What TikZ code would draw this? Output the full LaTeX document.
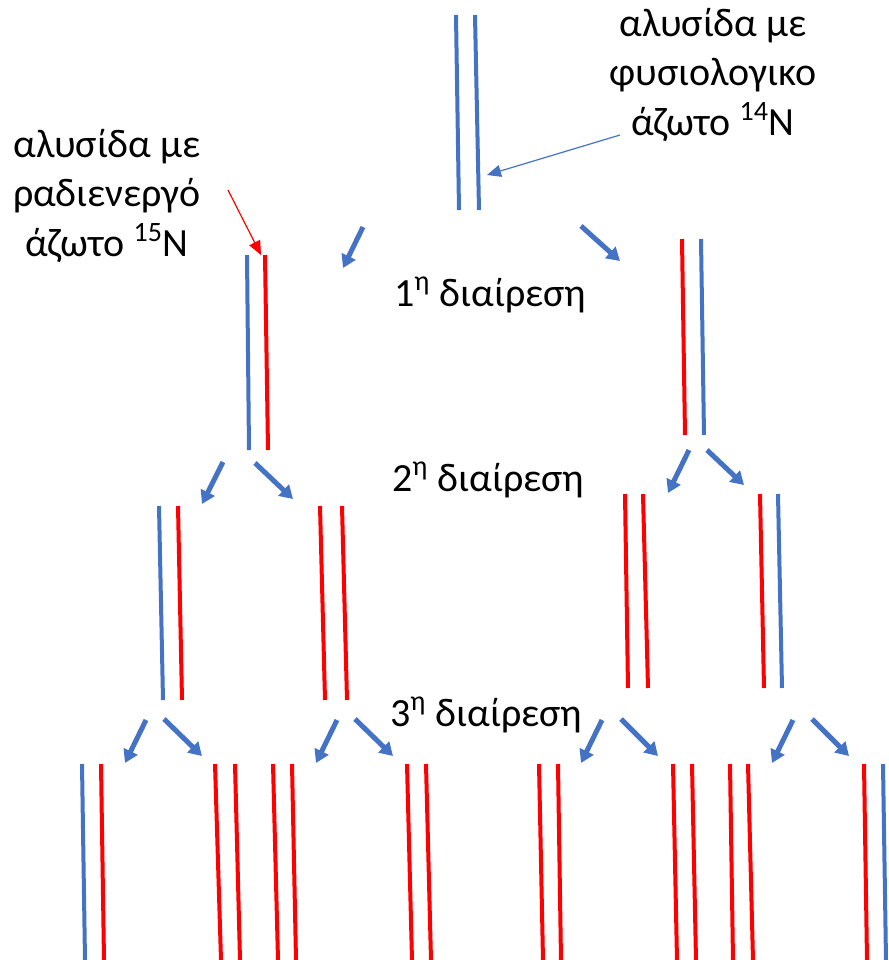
\documentclass[tikz,border=0pt]{standalone}
\usepackage{fontspec}
\setmainfont{Carlito}
\usetikzlibrary{arrows.meta}

\definecolor{oldN}{HTML}{4472C4}
\definecolor{newN}{HTML}{FF0000}

\begin{document}
\begin{tikzpicture}[x=0.5pt,y=-0.5pt,
  old/.style={line width=2pt,oldN},
  new/.style={line width=2pt,newN},
  split/.style={-{Triangle[length=6.5pt,width=7.5pt]},line width=2.5pt,oldN},
  pointer/.style={-{Triangle[length=7pt,width=6pt]},line width=0.6pt},
  txt/.style={align=center,inner sep=0pt,font=\fontsize{20}{24.75}\selectfont}]

\useasboundingbox (0,0) rectangle (889,960);

% parent molecule
\draw[old] (456,15) -- (459,210);
\draw[old] (475,15) -- (479,210);

% 1st division
\draw[old] (247,255) -- (249,450);
\draw[new] (265,255) -- (268,450);
\draw[new] (682,239) -- (685,435);
\draw[old] (701,239) -- (704,435);

% 2nd division
\draw[old] (159,506) -- (163,700);
\draw[new] (178,506) -- (182,700);
\draw[new] (320,506) -- (325,700);
\draw[new] (342,506) -- (347,700);
\draw[new] (625,494) -- (628,688);
\draw[new] (643,494) -- (648,688);
\draw[new] (760,494) -- (764,688);
\draw[old] (778,494) -- (782,688);

% 3rd division
\draw[old] (82,764) -- (85,960);
\draw[new] (101,764) -- (104,960);
\draw[new] (215,764) -- (221,960);
\draw[new] (235,764) -- (240,960);
\draw[new] (273,764) -- (278,960);
\draw[new] (292,764) -- (296,960);
\draw[new] (407,764) -- (412,960);
\draw[new] (426,764) -- (431,960);
\draw[new] (539,764) -- (543,960);
\draw[new] (558,764) -- (561,960);
\draw[new] (673,764) -- (677,960);
\draw[new] (692,764) -- (696,960);
\draw[new] (730,764) -- (733,960);
\draw[new] (748,764) -- (753,960);
\draw[new] (864,764) -- (867,960);
\draw[old] (883,764) -- (886,960);

% labels
\node[txt] (normal) at (713,75) {αλυσίδα με\\φυσιολογικο\\άζωτο \textsuperscript{14}N};
\node[txt] (heavy) at (107,196) {αλυσίδα με\\ραδιενεργό\\άζωτο \textsuperscript{15}N};
\node[txt,anchor=base] (div1) at (490,306) {1\textsuperscript{η} διαίρεση};
\node[txt,anchor=base] (div2) at (488,491) {2\textsuperscript{η} διαίρεση};
\node[txt,anchor=base] (div3) at (486,726) {3\textsuperscript{η} διαίρεση};

\coordinate (normalfrom) at (620,135);
\coordinate (normalto) at (487,175);
\coordinate (heavyfrom) at (228,190);
\coordinate (heavyto) at (261,255);
\draw[pointer,oldN] (normalfrom) -- (normalto);
\draw[pointer,newN] (heavyfrom) -- (heavyto);

% division arrows
\coordinate (a1) at (363,227);  \coordinate (a1tip) at (343,268);
\coordinate (b1) at (581,226);  \coordinate (b1tip) at (620,261);
\coordinate (a2) at (223,462);  \coordinate (a2tip) at (202,504);
\coordinate (b2) at (255,463);  \coordinate (b2tip) at (293,499);
\coordinate (c2) at (689,450);  \coordinate (c2tip) at (668,493);
\coordinate (d2) at (707,450);  \coordinate (d2tip) at (744,485);
\coordinate (a3) at (146,720);  \coordinate (a3tip) at (125,763);
\coordinate (b3) at (164,719);  \coordinate (b3tip) at (202,756);
\coordinate (c3) at (337,720);  \coordinate (c3tip) at (316,763);
\coordinate (d3) at (355,719);  \coordinate (d3tip) at (393,756);
\coordinate (e3) at (602,720);  \coordinate (e3tip) at (581,763);
\coordinate (f3) at (621,719);  \coordinate (f3tip) at (658,756);
\coordinate (g3) at (793,720);  \coordinate (g3tip) at (772,763);
\coordinate (h3) at (812,719);  \coordinate (h3tip) at (849,756);

\draw[split] (a1) -- (a1tip);
\draw[split] (b1) -- (b1tip);
\draw[split] (a2) -- (a2tip);
\draw[split] (b2) -- (b2tip);
\draw[split] (c2) -- (c2tip);
\draw[split] (d2) -- (d2tip);
\draw[split] (a3) -- (a3tip);
\draw[split] (b3) -- (b3tip);
\draw[split] (c3) -- (c3tip);
\draw[split] (d3) -- (d3tip);
\draw[split] (e3) -- (e3tip);
\draw[split] (f3) -- (f3tip);
\draw[split] (g3) -- (g3tip);
\draw[split] (h3) -- (h3tip);

\end{tikzpicture}
\end{document}
